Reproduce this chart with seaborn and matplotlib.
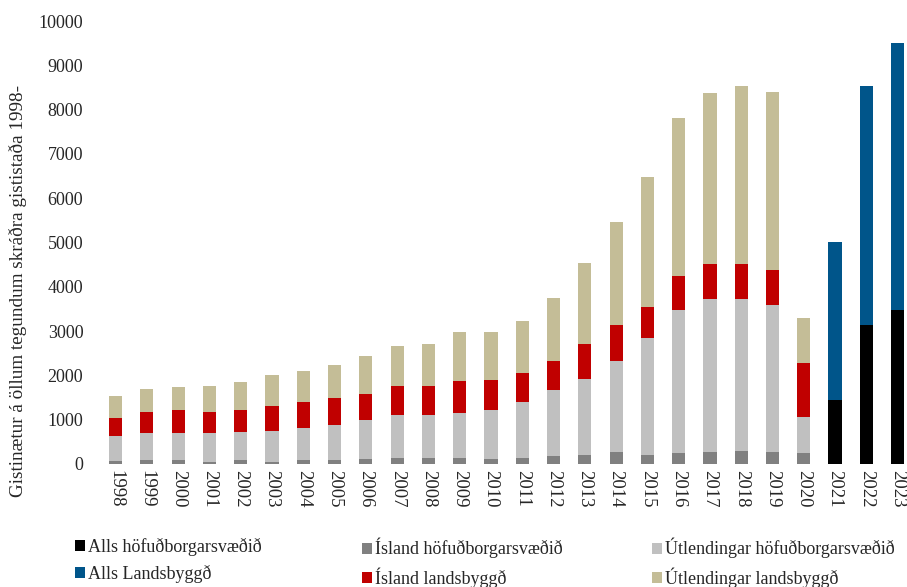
import numpy as np
import pandas as pd
import matplotlib
matplotlib.use("Agg")
import matplotlib.pyplot as plt
from matplotlib.patches import Patch
import seaborn as sns

years = [str(y) for y in range(1998, 2024)]

# Segments (thousands of nights)
island_hofud = [75, 85, 85, 55, 85, 55, 85, 85, 115, 145, 145, 145, 115, 145, 175, 205, 265, 205, 240, 270, 300, 270, 240, 0, 0, 0]
utlend_hofud = [550, 610, 610, 640, 640, 700, 730, 790, 885, 970, 970, 1000, 1095, 1245, 1485, 1725, 2055, 2635, 3240, 3445, 3415, 3330, 815, 0, 0, 0]
island_lands = [415, 485, 515, 485, 505, 545, 575, 605, 590, 635, 635, 725, 690, 660, 660, 790, 820, 700, 775, 810, 810, 780, 1215, 0, 0, 0]
utlend_lands = [500, 520, 520, 580, 610, 700, 720, 750, 850, 910, 970, 1120, 1090, 1180, 1430, 1810, 2330, 2930, 3545, 3850, 4000, 4020, 1030, 0, 0, 0]
alls_hofud = [0] * 23 + [1445, 3140, 3470]
alls_lands = [0] * 23 + [3575, 5385, 6025]

labels = ["Alls höfuðborgarsvæðið", "Ísland höfuðborgarsvæðið", "Útlendingar höfuðborgarsvæðið",
          "Alls Landsbyggð", "Ísland landsbyggð", "Útlendingar landsbyggð"]
colors = {"Alls höfuðborgarsvæðið": "#000000",
          "Ísland höfuðborgarsvæðið": "#808080",
          "Útlendingar höfuðborgarsvæðið": "#C0C0C0",
          "Alls Landsbyggð": "#00558A",
          "Ísland landsbyggð": "#C00000",
          "Útlendingar landsbyggð": "#C4BD97"}

sns.set_style("white")
plt.rcParams["font.family"] = ["Liberation Serif", "DejaVu Serif"]

df = pd.DataFrame({"year": years,
                   "ih": island_hofud, "uh": utlend_hofud,
                   "il": island_lands, "ul": utlend_lands,
                   "ah": alls_hofud, "al": alls_lands})
# cumulative layers drawn back to front
layers = [
    (df["ih"] + df["uh"] + df["il"] + df["ul"], colors["Útlendingar landsbyggð"]),
    (df["ih"] + df["uh"] + df["il"], colors["Ísland landsbyggð"]),
    (df["ih"] + df["uh"], colors["Útlendingar höfuðborgarsvæðið"]),
    (df["ih"], colors["Ísland höfuðborgarsvæðið"]),
    (df["ah"] + df["al"], colors["Alls Landsbyggð"]),
    (df["ah"], colors["Alls höfuðborgarsvæðið"]),
]

fig = plt.figure(figsize=(9.07, 5.87), dpi=100)
ax = fig.add_axes([100 / 907, (587 - 464) / 587, 807 / 907, (464 - 21) / 587])

for vals, col in layers:
    sns.barplot(x=df["year"], y=vals, order=years, color=col, width=0.42,
                ax=ax, saturation=1, edgecolor="none", linewidth=0)

ax.set_xlim(-0.5, 25.3)
ax.set_ylim(0, 10000)
ax.set_yticks(np.arange(0, 10001, 1000))
ax.set_yticklabels([str(v) for v in range(0, 10001, 1000)], fontsize=13)
ax.set_xticks(range(len(years)))
ax.set_xticklabels(years, rotation=-90, fontsize=13.5)
ax.tick_params(axis="both", length=0)
ax.tick_params(axis="y", pad=12)
ax.tick_params(axis="x", pad=4)
ax.set_xlabel("")
ax.set_ylabel("Gistinætur á öllum tegundum skráðra gististaða 1998-", fontsize=13.8)
ax.yaxis.set_label_coords((27 - 100) / 807, 0.39)
sns.despine(ax=ax, left=True, bottom=True)

groups = [(labels[0], labels[3]), (labels[1], labels[4]), (labels[2], labels[5])]
xpos = [75, 362, 652]
for (a, b), xp in zip(groups, xpos):
    handles = [Patch(facecolor=colors[a], edgecolor="none", label=a),
               Patch(facecolor=colors[b], edgecolor="none", label=b)]
    fig.legend(handles=handles, loc="upper left",
               bbox_to_anchor=(xp / 907, (587 - 538) / 587),
               frameon=False, fontsize=13, handlelength=0.55, handleheight=0.55,
               handletextpad=0.15, labelspacing=0.5, borderpad=0, borderaxespad=0)

fig.savefig("out.png", dpi=100)
